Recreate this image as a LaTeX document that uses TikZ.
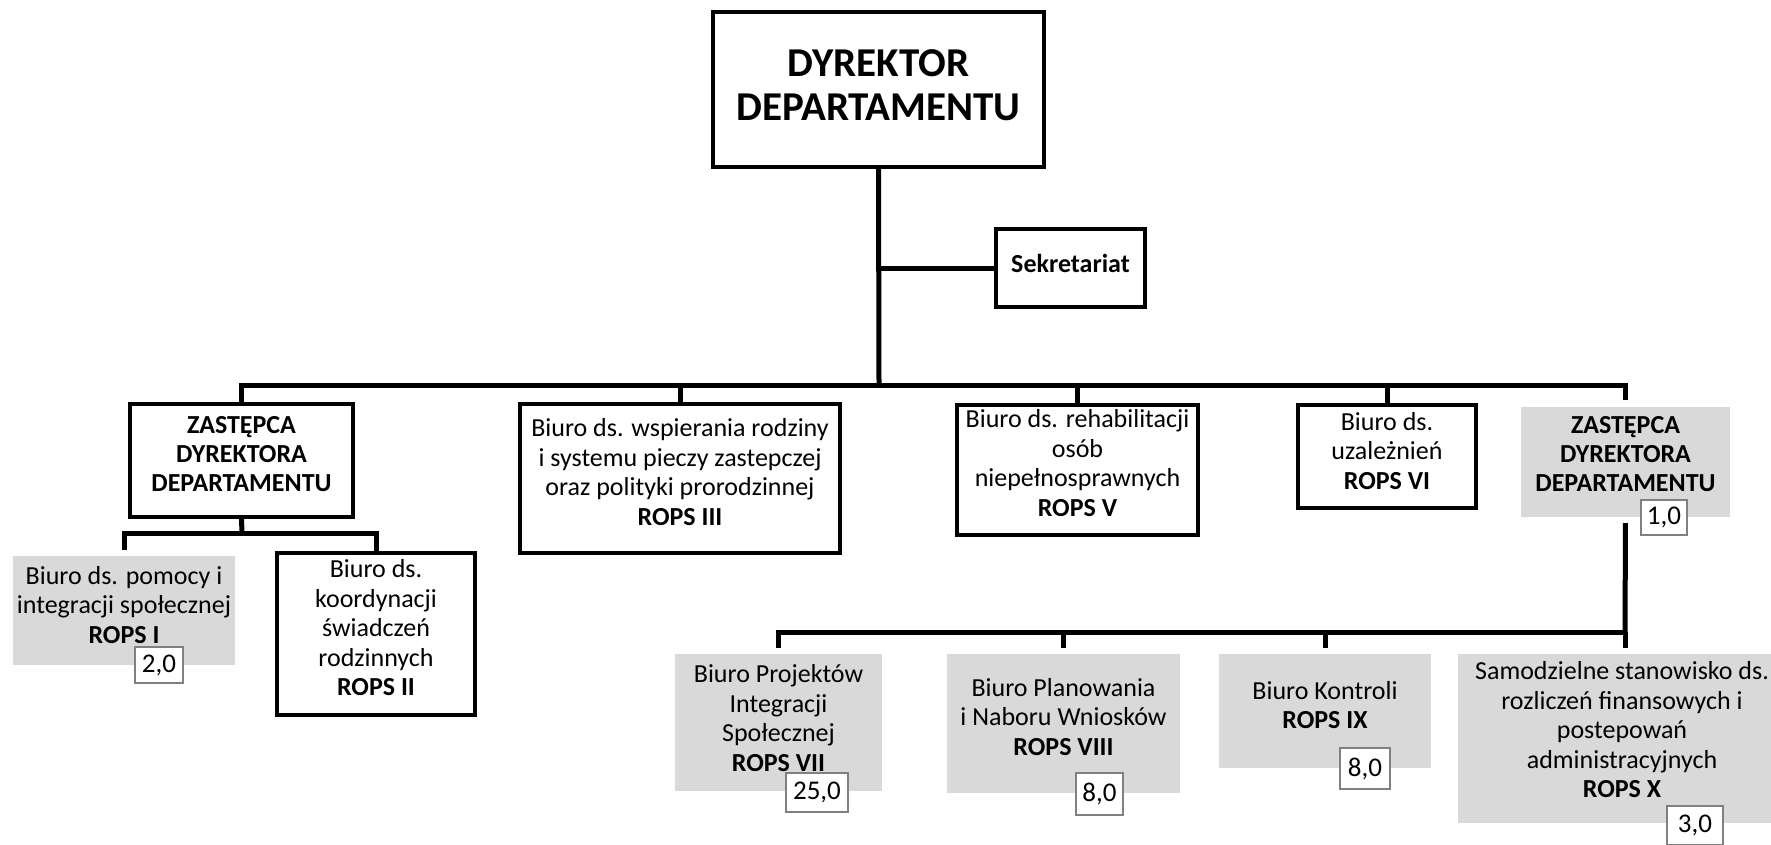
\documentclass[tikz,border=0pt]{standalone}
\usepackage{fontspec}
\setmainfont{Carlito}
\definecolor{boxgrey}{RGB}{217,217,217}
\definecolor{numgrey}{RGB}{128,128,128}

\begin{document}
\begin{tikzpicture}[x=1pt,y=-1pt,
  box/.style={draw, line width=4pt, fill=white, inner sep=0pt},
  greybox/.style={fill=boxgrey, inner sep=0pt},
  num/.style={draw=numgrey, line width=2.5pt, fill=white, inner sep=0pt, font=\fontsize{27}{27}\selectfont},
  txt/.style={align=center, inner sep=0pt, font=\fontsize{26}{29.5}\selectfont},
  head/.style={align=center, inner sep=0pt, font=\bfseries\fontsize{26}{29}\selectfont},
  link/.style={line width=5pt},
  gap/.style={shorten >=6pt}]
\useasboundingbox (0,0) rectangle (1771,844);
\clip (0,0) rectangle (1771,844);

% top
\node[box, minimum width=331pt, minimum height=155pt] (dyr) at (878.5,89.5) {};
\node[head, font=\bfseries\fontsize{41}{44}\selectfont] (dyrt) at (878.5,85) {DYREKTOR\\DEPARTAMENTU};
\node[box, minimum width=149pt, minimum height=78pt] (sek) at (1070.5,268) {};
\node[head] (sekt) at (1070.5,263) {Sekretariat};

% second row
\node[box, minimum width=223pt, minimum height=113pt] (zas1) at (241.5,460.5) {};
\node[head] (zas1t) at (241.5,454) {ZASTĘPCA\\DYREKTORA\\DEPARTAMENTU};
\node[box, minimum width=320pt, minimum height=149pt] (rops3) at (680,478.5) {};
\node[txt] (rops3t) at (680,472) {Biuro ds. wspierania rodziny\\i systemu pieczy zastepczej\\oraz polityki prorodzinnej\\\textbf{ROPS III}};
\node[box, minimum width=241pt, minimum height=130pt] (rops5) at (1077.5,470) {};
\node[txt] (rops5t) at (1077.5,463) {Biuro ds. rehabilitacji\\osób\\niepełnosprawnych\\\textbf{ROPS V}};
\node[box, minimum width=178pt, minimum height=103pt] (rops6) at (1387,456.5) {};
\node[txt] (rops6t) at (1387,451) {Biuro ds.\\uzależnień\\\textbf{ROPS VI}};
\node[greybox, minimum width=209pt, minimum height=110pt] (zas2) at (1625.5,462) {};
\node[head] (zas2t) at (1625.5,454) {ZASTĘPCA\\DYREKTORA\\DEPARTAMENTU};
\node[num, minimum width=46pt, minimum height=35pt] (n2) at (1664,517.5) {1,0};

% under the first deputy
\node[greybox, minimum width=222pt, minimum height=109pt] (rops1) at (124,610.5) {};
\node[txt] (rops1t) at (124,605) {Biuro ds. pomocy i\\integracji społecznej\\\textbf{ROPS I}};
\node[num, minimum width=48pt, minimum height=36pt] (n1) at (159,665) {2,0};
\node[box, minimum width=198pt, minimum height=162pt] (rops2) at (376,634) {};
\node[txt] (rops2t) at (376,628) {Biuro ds.\\koordynacji\\świadczeń\\rodzinnych\\\textbf{ROPS II}};

% under the second deputy
\node[greybox, minimum width=207pt, minimum height=137pt] (rops7) at (778.5,722.5) {};
\node[txt] (rops7t) at (778.5,718) {Biuro Projektów\\Integracji\\Społecznej\\\textbf{ROPS VII}};
\node[num, minimum width=62pt, minimum height=39pt] (n7) at (817,792.5) {25,0};
\node[greybox, minimum width=233pt, minimum height=139pt] (rops8) at (1063.5,723.5) {};
\node[txt] (rops8t) at (1063.5,717) {Biuro Planowania\\i Naboru Wniosków\\\textbf{ROPS VIII}};
\node[num, minimum width=47pt, minimum height=42pt] (n8) at (1099.5,794) {8,0};
\node[greybox, minimum width=212pt, minimum height=114pt] (rops9) at (1325,711) {};
\node[txt] (rops9t) at (1325,705) {Biuro Kontroli\\\textbf{ROPS IX}};
\node[num, minimum width=50pt, minimum height=41pt] (n9) at (1365,768.5) {8,0};
\node[greybox, minimum width=348pt, minimum height=169pt] (rops10) at (1632,738.5) {};
\node[txt] (rops10t) at (1622,730) {Samodzielne stanowisko ds.\\rozliczeń finansowych i\\postepowań\\administracyjnych\\\textbf{ROPS X}};
\node[num, minimum width=56pt, minimum height=39pt] (n10) at (1695,825.5) {3,0};

% lines
\coordinate (bus) at (879,385);
\coordinate (sub1) at (242,533);
\coordinate (sub2) at (1625,632);
\draw[link] (dyr.south) -- (bus);
\draw[link] (dyr.south |- sek.west) -- (sek.west);
\draw[link, shorten >=7pt] (zas1.north) |- (bus) -| (zas2.north);
\draw[link] (rops3.north) -- (rops3.north |- bus);
\draw[link] (rops5.north) -- (rops5.north |- bus);
\draw[link] (rops6.north) -- (rops6.north |- bus);
\draw[link] (zas1.south) -- (sub1);
\draw[link, gap] (sub1) -| (rops1.north);
\draw[link] (sub1) -| (rops2.north);
\draw[link, shorten <=6pt] (zas2.south) -- (sub2);
\draw[link, gap] (sub2) -| (rops7.north);
\draw[link, gap] (sub2) -- (sub2 |- rops10.north);
\draw[link, gap] (rops8.north |- sub2) -- (rops8.north);
\draw[link, gap] (rops9.north |- sub2) -- (rops9.north);
\end{tikzpicture}
\end{document}
